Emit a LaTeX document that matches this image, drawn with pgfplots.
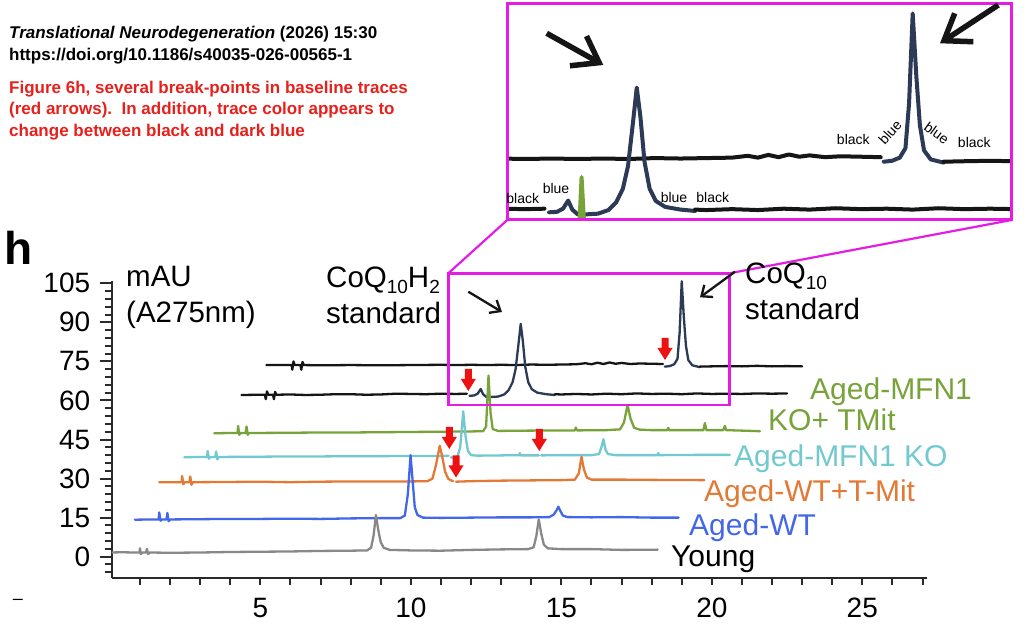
\documentclass[border=0pt]{standalone}
\usepackage{fontspec}
\setmainfont{Liberation Sans}
\usepackage{pgfplots}
\pgfplotsset{compat=1.18}
\usepackage{pgfplotstable}
\usetikzlibrary{arrows.meta}

\definecolor{cgray}{HTML}{888888}
\definecolor{cblue}{HTML}{4466E8}
\definecolor{corange}{HTML}{E27A36}
\definecolor{ccyan}{HTML}{72C9CF}
\definecolor{cgreen}{HTML}{78A33A}
\definecolor{cblack}{HTML}{151515}
\definecolor{cnavy}{HTML}{2C3A56}
\definecolor{cmag}{HTML}{E41CE4}
\definecolor{cred}{HTML}{EE1111}
\definecolor{ctxtred}{HTML}{E8201C}
\definecolor{axisc}{HTML}{2A2A2A}

% ---------------- data (retention time, mAU) ----------------
\pgfplotstableread{
x y
0.00 1.6
0.40 1.7
0.80 1.6
0.98 1.6
1.00 3.2
1.03 1.0
1.08 1.6
1.20 1.6
1.23 3.0
1.27 1.0
1.32 1.6
2.00 1.5
3.00 1.6
4.00 1.8
5.00 1.9
6.00 2.0
7.00 2.2
8.00 2.3
8.55 2.4
8.68 3.5
8.76 8.0
8.84 16.0
8.92 10.0
9.00 5.5
9.10 3.4
9.30 2.6
10.00 2.4
11.00 2.3
12.00 2.6
13.00 2.8
13.90 2.9
14.08 3.6
14.17 8.0
14.25 14.3
14.33 9.0
14.42 4.6
14.55 3.2
15.00 2.9
16.00 2.9
17.00 2.6
18.20 2.7
}\young

\pgfplotstableread{
x y
0.83 14.2
1.40 14.3
1.62 14.3
1.64 17.0
1.68 13.8
1.72 14.3
1.88 14.3
1.91 16.8
1.95 13.6
2.00 14.3
3.00 14.4
4.00 14.5
5.00 14.5
6.00 14.6
7.00 14.5
8.00 14.7
9.00 14.8
9.65 14.8
9.80 15.8
9.90 24.0
9.99 39.0
10.06 29.0
10.13 19.0
10.22 16.0
10.40 15.0
11.00 14.9
12.00 15.0
13.00 15.1
14.00 15.1
14.60 15.2
14.75 16.2
14.84 17.8
14.90 19.2
14.97 17.5
15.05 15.8
15.20 15.2
16.00 15.1
17.00 15.2
18.00 15.0
18.90 15.0
}\agedwt

\pgfplotstableread{
x y
1.64 28.6
2.20 28.6
2.38 28.6
2.40 31.0
2.44 27.8
2.48 28.6
2.64 28.6
2.67 30.8
2.71 27.6
2.76 28.6
4.00 28.7
5.00 28.8
6.00 28.6
7.00 28.8
8.00 28.9
9.00 28.9
10.00 28.9
10.55 29.0
10.72 30.0
10.84 35.5
10.96 42.6
11.05 38.0
11.14 32.5
11.25 29.8
11.40 29.0
}\wtmitA
\pgfplotstableread{
x y
11.50 28.8
12.00 29.0
13.00 29.2
14.00 29.3
15.00 29.4
15.45 29.6
15.58 32.0
15.67 38.4
15.75 33.5
15.85 30.4
16.00 29.6
17.00 29.6
18.00 29.5
19.75 29.4
}\wtmitB

\pgfplotstableread{
x y
2.47 38.2
3.00 38.3
3.23 38.3
3.25 40.6
3.29 37.6
3.33 38.3
3.50 38.3
3.53 40.4
3.57 37.4
3.62 38.3
5.00 38.4
6.00 38.5
7.00 38.5
8.00 38.6
9.00 38.6
10.00 38.7
11.00 38.7
11.25 38.8
}\koA
\pgfplotstableread{
x y
11.33 38.2
11.45 37.8
11.55 38.5
11.64 42.0
11.74 55.8
11.82 46.0
11.90 40.5
12.00 39.0
12.20 38.8
13.00 38.9
13.60 39.0
13.62 39.8
13.65 38.9
14.25 38.9
}\koB
\pgfplotstableread{
x y
14.33 38.9
15.00 39.0
16.00 39.0
16.25 39.4
16.33 42.0
16.40 45.1
16.47 41.0
16.55 39.4
16.80 39.0
17.50 39.0
18.20 39.0
18.22 39.8
18.25 39.0
19.50 39.1
20.60 39.1
}\koC

\pgfplotstableread{
x y
3.47 47.4
4.00 47.5
4.24 47.5
4.26 50.2
4.30 46.8
4.34 47.5
4.51 47.5
4.54 50.0
4.58 46.8
4.62 47.5
6.00 47.6
7.00 47.7
8.00 47.7
9.00 47.8
10.00 47.9
11.00 48.0
12.00 48.1
12.40 48.2
12.50 50.0
12.58 69.6
12.65 55.0
12.72 49.0
12.90 48.3
13.80 48.4
15.00 48.5
15.45 48.5
15.48 49.6
15.52 48.5
16.50 48.6
16.95 48.9
17.08 51.5
17.20 58.2
17.30 53.0
17.42 49.5
17.60 48.8
18.00 48.6
18.52 48.6
18.55 49.5
18.58 48.6
19.72 48.6
19.77 51.3
19.82 48.6
20.38 48.6
20.43 50.2
20.48 48.6
21.60 48.2
}\kotmit

\pgfplotstableread{
x y
4.37 62.1
5.00 62.2
5.15 62.2
5.18 60.5
5.22 63.5
5.26 62.2
5.42 62.2
5.45 60.5
5.49 63.3
5.53 62.2
6.00 62.3
6.50 62.1
7.00 62.2
7.50 62.4
8.00 62.4
8.50 62.2
9.00 62.3
9.50 62.6
10.00 62.5
10.50 62.4
11.00 62.6
11.50 62.5
11.86 62.6
}\hA
\pgfplotstableread{
x y
11.95 61.8
12.10 61.9
12.22 62.6
12.32 64.4
12.40 62.4
12.50 61.4
12.60 61.3
12.90 61.5
13.10 62.3
13.25 64.0
13.38 67.0
13.48 72.0
13.57 81.0
13.65 89.4
13.72 83.0
13.80 73.0
13.90 67.0
14.02 64.3
14.20 63.0
14.50 62.4
14.78 62.1
}\hB
\pgfplotstableread{
x y
14.78 62.4
15.00 62.3
15.50 62.5
16.00 62.3
16.50 62.6
17.00 62.4
17.50 62.7
18.00 62.5
18.50 62.6
19.00 62.4
19.50 62.7
20.00 62.5
20.50 62.6
21.00 62.5
21.50 62.7
22.00 62.6
22.50 62.7
}\hC

\pgfplotstableread{
x y
5.20 73.6
5.80 73.6
6.04 73.6
6.06 71.8
6.10 75.0
6.14 73.6
6.33 73.6
6.36 71.8
6.40 74.8
6.44 73.6
7.00 73.5
8.00 73.6
9.00 73.5
10.00 73.6
11.00 73.7
11.50 73.6
12.00 73.7
12.50 73.6
13.00 73.7
13.50 73.6
14.00 73.8
14.50 73.7
15.00 73.8
15.50 73.9
15.80 74.3
16.00 73.9
16.20 74.5
16.40 74.0
16.60 74.6
16.80 74.1
17.00 74.4
17.30 74.0
17.60 74.2
18.00 74.1
18.38 74.0
}\qA
\pgfplotstableread{
x y
18.44 73.0
18.60 73.2
18.75 73.9
18.86 76.0
18.93 86.0
19.00 105.8
19.07 92.0
19.14 81.0
19.22 75.5
19.35 73.5
19.60 72.8
}\qB
\pgfplotstableread{
x y
19.60 73.0
20.00 73.1
20.50 73.2
21.00 73.1
21.50 73.3
22.00 73.1
22.50 73.2
23.00 73.1
}\qC

\pgfplotsset{trace/.style={line width=2.3pt, line join=round, line cap=round, no markers},
  itrace/.style={line width=4pt, line join=round, line cap=round, no markers}}

\newcommand{\redarrow}[2]{\fill[cred] (#1,#2) -- ++(-7.5,12) -- ++(4,0) -- ++(0,10) -- ++(7,0) -- ++(0,-10) -- ++(4,0) -- cycle;}

\begin{document}
\begin{tikzpicture}
\useasboundingbox (0,0) rectangle (1024pt,629pt);
\fill[white] (0,0) rectangle (1024pt,629pt);

% ---------------- main chromatogram ----------------
\begin{axis}[
  at={(111.7pt,51.5pt)}, anchor=south west,
  scale only axis, width=815.3pt, height=296.8pt,
  xmin=0.06, xmax=27.15, ymin=-8, ymax=106,
  axis x line*=bottom, axis y line*=left,
  axis line style={line width=2pt, color=axisc},
  xtick={5,10,15,20,25},
  minor xtick={1,2,...,27},
  ytick={0,15,...,105},
  minor ytick={-6,-3,...,105},
  tick align=outside,
  major tick length=12pt, minor tick length=7pt,
  every tick/.style={line width=2pt, color=axisc},
  every major x tick/.append style={draw=none},
  tick label style={font=\fontsize{28}{28}\selectfont, color=black},
  /pgf/number format/assume math mode=true,
  xticklabel style={yshift=-5pt},
  yticklabel style={xshift=-6pt},
]
\addplot[trace, cblack] table[x=x,y=y] {\qA};
\addplot[trace, cnavy] table[x=x,y=y] {\qB};
\addplot[trace, cblack] table[x=x,y=y] {\qC};
\addplot[trace, cblack] table[x=x,y=y] {\hA};
\addplot[trace, cnavy] table[x=x,y=y] {\hB};
\addplot[trace, cblack] table[x=x,y=y] {\hC};
\addplot[trace, cgreen] table[x=x,y=y] {\kotmit};
\addplot[trace, ccyan] table[x=x,y=y] {\koA};
\addplot[trace, ccyan] table[x=x,y=y] {\koB};
\addplot[trace, ccyan] table[x=x,y=y] {\koC};
\addplot[trace, corange] table[x=x,y=y] {\wtmitA};
\addplot[trace, corange] table[x=x,y=y] {\wtmitB};
\addplot[trace, cblue] table[x=x,y=y] {\agedwt};
\addplot[trace, cgray] table[x=x,y=y] {\young};
\end{axis}

% ---------------- magnified inset ----------------
\begin{axis}[
  at={(507.3pt,409pt)}, anchor=south west,
  scale only axis, width=504.4pt, height=216pt,
  xmin=11.14, xmax=20.92, ymin=60.1, ymax=107.9,
  hide axis, clip=true,
]
\addplot[itrace, cblack] table[x=x,y=y] {\qA};
\addplot[itrace, cnavy] table[x=x,y=y] {\qB};
\addplot[itrace, cblack] table[x=x,y=y] {\qC};
\addplot[itrace, cblack] table[x=x,y=y] {\hA};
\addplot[itrace, cnavy] table[x=x,y=y] {\hB};
\addplot[itrace, cblack] table[x=x,y=y] {\hC};
\addplot[itrace, cgreen] table[x=x,y=y] {\kotmit};
\end{axis}

\begin{scope}[x=1pt,y=1pt]
% magenta frames and connectors
\draw[cmag, line width=2.5pt] (448.3,224) rectangle (729.3,355.7);
\draw[cmag, line width=2.2pt] (448.3,355.7) -- (507.3,409);
\draw[cmag, line width=2.2pt] (729.3,355.7) -- (1011.7,409);
\draw[cmag, line width=3pt] (507.3,409) rectangle (1011.7,625);

% red break-point arrows
\redarrow{665}{269}
\redarrow{468.3}{238}
\redarrow{449.3}{180}
\redarrow{539.3}{178}
\redarrow{456}{151.5}

% black pointer arrows (main)
\draw[cblack, line width=2.3pt, -{Straight Barb[length=9pt,width=15pt]}] (468.3,337.3) -- (502,317);
\draw[cblack, line width=2.3pt, -{Straight Barb[length=9pt,width=15pt]}] (735,357.3) -- (700,331.7);

% black pointer arrows (inset)
\draw[cblack, line width=5.5pt, -{Straight Barb[length=24pt,width=34pt]}] (546.7,595.7) -- (603.3,564);
\draw[cblack, line width=5.5pt, -{Straight Barb[length=24pt,width=34pt]}] (998.3,624) -- (940,585.7);

% inset colour notes
\begin{scope}[every node/.style={inner sep=0, font=\fontsize{14}{14}\selectfont, text=black}]
\node at (853.3,489) {black};
\node[rotate=48] at (890,497) {blue};
\node[rotate=-36] at (936.7,496) {blue};
\node at (974.3,486.3) {black};
\node at (522.7,430) {black};
\node at (556,440.3) {blue};
\node at (674,431.7) {blue};
\node at (712.7,431.7) {black};
\end{scope}

% panel letter and annotations
\node[anchor=base west, inner sep=0, font=\fontsize{46}{46}\selectfont\bfseries] at (4,364) {h};
\begin{scope}[every node/.style={anchor=base west, inner sep=0, font=\fontsize{29.5}{29.5}\selectfont, text=black}]
\node at (126,342.3) {mAU};
\node at (126,306.5) {(A275nm)};
\node at (326,341.7) {CoQ\raisebox{-6pt}{\fontsize{19}{19}\selectfont 10}H\raisebox{-6pt}{\fontsize{19}{19}\selectfont 2}};
\node at (326,305) {standard};
\node at (745,345) {CoQ\raisebox{-6pt}{\fontsize{19}{19}\selectfont 10}};
\node at (745,309) {standard};
\end{scope}

% trace labels
\begin{scope}[every node/.style={anchor=base west, inner sep=0, font=\fontsize{30}{30}\selectfont}]
\node[text=cgreen] at (810,229.7) {Aged-MFN1};
\node[text=cgreen] at (768,198.3) {KO+ TMit};
\node[text=ccyan] at (734,162.3) {Aged-MFN1 KO};
\node[text=corange] at (704,127.3) {Aged-WT+T-Mit};
\node[text=cblue] at (689,94) {Aged-WT};
\node[text=black] at (671,63) {Young};
\end{scope}

\node[inner sep=0, font=\fontsize{18}{18}\selectfont] at (18,27.3) {–};

% header text
\begin{scope}[every node/.style={anchor=base west, inner sep=0, font=\fontsize{17}{17}\selectfont\bfseries}]
\node at (9,590.7) {\textit{Translational Neurodegeneration} (2026) 15:30};
\node at (9,568) {https://doi.org/10.1186/s40035-026-00565-1};
\node[text=ctxtred] at (9,535.7) {Figure 6h, several break-points in baseline traces};
\node[text=ctxtred] at (9,514) {(red arrows).\ \ In addition, trace color appears to};
\node[text=ctxtred] at (9,492.3) {change between black and dark blue};
\end{scope}
\end{scope}
\end{tikzpicture}
\end{document}
